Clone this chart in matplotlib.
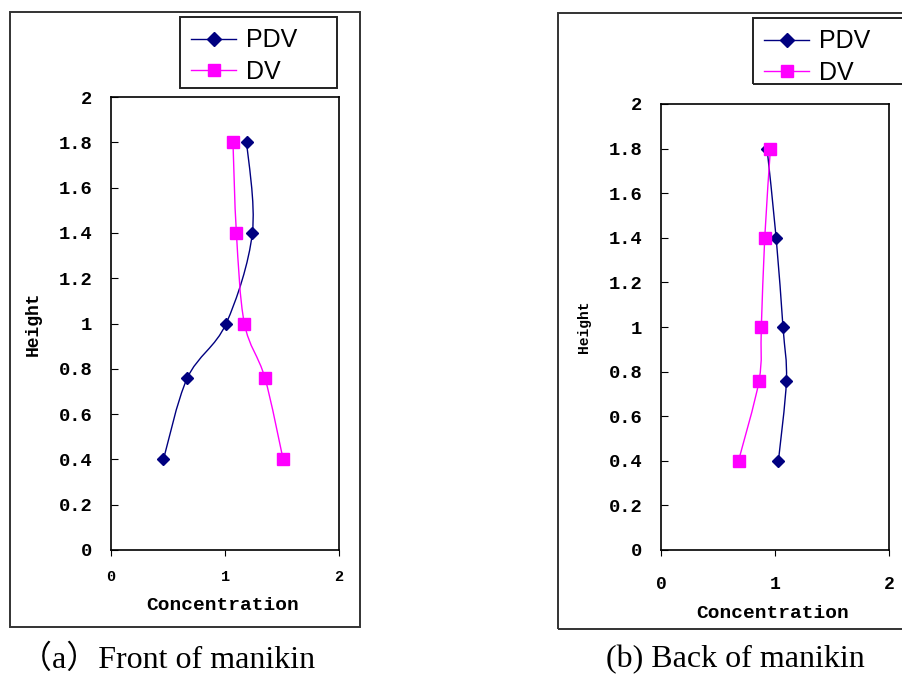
# Vertical concentration profiles, front and back of the manikin (PDV vs DV).
import matplotlib

matplotlib.use("Agg")
import matplotlib.pyplot as plt
from matplotlib.lines import Line2D
from matplotlib.path import Path
from matplotlib.patches import PathPatch, Rectangle

heights = [1.8, 1.4, 1.0, 0.76, 0.4]
front_pdv = [1.19, 1.24, 1.01, 0.67, 0.46]
front_dv = [1.07, 1.10, 1.17, 1.35, 1.51]
back_pdv = [0.93, 1.01, 1.07, 1.10, 1.03]
back_dv = [0.96, 0.91, 0.88, 0.86, 0.68]
x_ticks = [0, 1, 2]
y_ticks = [0, 0.2, 0.4, 0.6, 0.8, 1, 1.2, 1.4, 1.6, 1.8, 2]
captions = ["\uff08a\uff09Front of manikin", "(b) Back of manikin"]

NAVY, MAGENTA = "#000080", "#ff00ff"
W, H = 903, 683
MONO = "Liberation Mono"


def smooth_path(xs, ys):
    # Excel-style smoothed line: cubic Bezier segments, Catmull-Rom control points
    pts = list(zip(xs, ys))
    verts, codes = [pts[0]], [Path.MOVETO]
    for i in range(len(pts) - 1):
        p0 = pts[max(i - 1, 0)]
        p1, p2 = pts[i], pts[i + 1]
        p3 = pts[min(i + 2, len(pts) - 1)]
        c1 = (p1[0] + (p2[0] - p0[0]) / 6, p1[1] + (p2[1] - p0[1]) / 6)
        c2 = (p2[0] - (p3[0] - p1[0]) / 6, p2[1] - (p3[1] - p1[1]) / 6)
        verts += [c1, c2, p2]
        codes += [Path.CURVE4] * 3
    return Path(verts, codes)


def px_rect(x0, y0, x1, y1):
    # figure-fraction rect from pixel box (top-left origin)
    return [x0 / W, 1 - y1 / H, (x1 - x0) / W, (y1 - y0) / H]


def frame(x0, y0, x1, y1, color, lw):
    fig.patches.append(Rectangle(px_rect(x0, y0, x1, y1)[:2],
                                 (x1 - x0) / W, (y1 - y0) / H,
                                 transform=fig.transFigure, fill=False,
                                 edgecolor=color, lw=lw))


fig = plt.figure(figsize=(W / 100, H / 100), dpi=100)

# outer chart-area frames
frame(10, 12, 360, 627, "#333333", 1.4)
frame(558, 13, 920, 629, "#333333", 1.4)

panels = [
    dict(rect=(111, 97, 339, 550), pdv=front_pdv, dv=front_dv,
         xtick_fs=11, xtick_pad=10.5, ylab_x=33, ylab_fs=13, xlab=(223, 605),
         legbox=(180, 17, 337, 88), cap=(20, 660)),
    dict(rect=(661, 104, 889, 550), pdv=back_pdv, dv=back_dv,
         xtick_fs=13, xtick_pad=14.5, ylab_x=584, ylab_fs=10.5, xlab=(773, 613),
         legbox=(753, 18, 920, 84), cap=(606, 660)),
]

for p, cap in zip(panels, captions):
    ax = fig.add_axes(px_rect(*p["rect"]))
    ax.set_xlim(0, 2)
    ax.set_ylim(0, 2)
    for series, color, marker, ms in [(p["pdv"], NAVY, "D", 6.5), (p["dv"], MAGENTA, "s", 8)]:
        ax.add_patch(PathPatch(smooth_path(series, heights), fill=False,
                               edgecolor=color, lw=1.0))
        ax.plot(series, heights, ls="none", marker=marker, ms=ms,
                color=color, mec=color)
    ax.set_xticks(x_ticks)
    ax.set_yticks(y_ticks)
    ax.set_yticklabels([f"{v:g}" for v in y_ticks])
    ax.tick_params(axis="y", direction="in", length=5, pad=13.5, labelsize=13.5)
    ax.tick_params(axis="x", direction="out", length=4, pad=p["xtick_pad"],
                   labelsize=p["xtick_fs"])
    for lab in ax.get_xticklabels() + ax.get_yticklabels():
        lab.set_fontfamily(MONO)
        lab.set_fontweight("bold")
    for sp in ax.spines.values():
        sp.set_linewidth(1.2)

    fig.text(p["ylab_x"] / W, 1 - (p["rect"][1] + p["rect"][3]) / 2 / H, "Height",
             rotation=90, ha="center", va="center", family=MONO,
             fontweight="bold", fontsize=p["ylab_fs"])
    fig.text(p["xlab"][0] / W, 1 - p["xlab"][1] / H, "Concentration",
             ha="center", va="center", family=MONO, fontweight="bold", fontsize=14)

    # legend box drawn as its own frame, entries placed inside it
    bx0, by0, bx1, by1 = p["legbox"]
    frame(bx0, by0, bx1, by1, "#222222", 1.4)
    handles = [Line2D([], [], color=NAVY, marker="D", ms=7, lw=1.0),
               Line2D([], [], color=MAGENTA, marker="s", ms=9, lw=1.0)]
    ax.legend(handles, ["PDV", "DV"], loc="upper left",
              bbox_to_anchor=(bx0 / W, 1 - by0 / H),
              bbox_transform=fig.transFigure, borderaxespad=0, frameon=False,
              prop={"family": "Liberation Sans", "size": 18},
              handlelength=1.8, handletextpad=0.4, labelspacing=0.3,
              borderpad=0.45)

    fig.text(p["cap"][0] / W, 1 - p["cap"][1] / H, cap, ha="left", va="center",
             family=["Liberation Serif", "Noto Sans CJK SC"], fontsize=23)

fig.savefig("out.png", dpi=100)
